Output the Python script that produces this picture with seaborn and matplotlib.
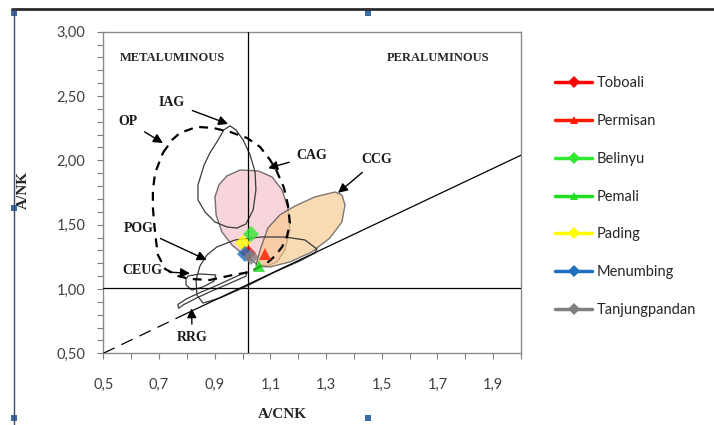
import numpy as np
import pandas as pd
import seaborn as sns
import matplotlib.pyplot as plt
from matplotlib.patches import Polygon, Rectangle
from matplotlib.lines import Line2D

# sample points (A/CNK, A/NK)
sites = ['Toboali', 'Permisan', 'Belinyu', 'Pemali', 'Pading', 'Menumbing', 'Tanjungpandan']
acnk = [1.02, 1.08, 1.03, 1.06, 1.00, 1.01, 1.03]
ank = [1.28, 1.27, 1.43, 1.18, 1.36, 1.27, 1.25]
site_colors = ['#ff0000', '#ff1a00', '#33e833', '#1fdd1f', '#ffff00', '#1f6fc0', '#7f7f7f']
site_markers = ['D', '^', 'D', '^', 'D', 'D', 'D']

# field outlines (A/CNK, A/NK)
op_x = [0.714, 0.747, 0.775, 0.836, 0.894, 0.955, 1.016, 1.063, 1.099, 1.124, 1.149, 1.163, 1.170, 1.160,
        1.142, 1.117, 1.088, 1.027, 0.966, 0.883, 0.811, 0.768, 0.722, 0.696, 0.689, 0.682, 0.678, 0.678, 0.686]
op_y = [2.058, 2.159, 2.213, 2.260, 2.252, 2.221, 2.174, 2.104, 2.003, 1.910, 1.785, 1.653, 1.513, 1.412,
        1.327, 1.257, 1.202, 1.132, 1.109, 1.070, 1.078, 1.101, 1.156, 1.265, 1.381, 1.521, 1.638, 1.770, 1.902]

iag_x = [0.955, 0.976, 1.002, 1.027, 1.045, 1.048, 1.038, 1.012, 0.980, 0.944, 0.901, 0.865, 0.840, 0.840,
         0.862, 0.883, 0.908, 0.933]
iag_y = [2.268, 2.237, 2.159, 2.042, 1.910, 1.770, 1.614, 1.505, 1.474, 1.482, 1.521, 1.599, 1.692, 1.809,
         1.964, 2.058, 2.143, 2.237]

cag_x = [0.991, 0.944, 0.915, 0.901, 0.905, 0.926, 0.962, 1.009, 1.052, 1.088, 1.124, 1.152, 1.170, 1.163,
         1.142, 1.106, 1.056]
cag_y = [1.925, 1.879, 1.809, 1.716, 1.575, 1.443, 1.342, 1.257, 1.194, 1.179, 1.210, 1.303, 1.459, 1.630,
         1.770, 1.871, 1.918]

ccg_x = [1.048, 1.063, 1.091, 1.134, 1.188, 1.260, 1.332, 1.357, 1.368, 1.357, 1.314, 1.249, 1.170, 1.098]
ccg_y = [1.179, 1.303, 1.474, 1.576, 1.645, 1.716, 1.754, 1.731, 1.653, 1.521, 1.397, 1.288, 1.210, 1.171]

pog_x = [1.267, 1.224, 1.152, 1.063, 0.973, 0.908, 0.872, 0.847, 0.833, 0.836, 0.858, 0.919, 1.009, 1.116,
         1.206, 1.260]
pog_y = [1.311, 1.381, 1.404, 1.404, 1.381, 1.327, 1.264, 1.179, 1.070, 0.953, 0.891, 0.930, 1.016, 1.132,
         1.218, 1.280]

ceug_x = [0.805, 0.847, 0.904, 0.898, 0.858, 0.818, 0.797, 0.797]
ceug_y = [1.101, 1.117, 1.109, 1.062, 1.016, 0.992, 1.031, 1.078]

rrg_x = [0.768, 0.800, 0.850, 0.900, 0.955, 1.016, 1.012, 0.950, 0.890, 0.835, 0.790, 0.770]
rrg_y = [0.880, 0.925, 0.975, 1.020, 1.075, 1.135, 1.100, 1.040, 0.985, 0.930, 0.880, 0.850]

# field labels and arrow tips
field_names = ['OP', 'IAG', 'CAG', 'CCG', 'POG', 'CEUG', 'RRG']
field_text_x = [0.589, 0.747, 1.249, 1.483, 0.626, 0.639, 0.819]
field_text_y = [2.299, 2.446, 2.035, 2.003, 1.472, 1.142, 0.619]
field_tip_x = [0.714, 0.948, 1.092, 1.343, 0.871, 0.811, 0.817]
field_tip_y = [2.135, 2.283, 1.939, 1.747, 1.226, 1.122, 0.850]

x_ticks = [0.5, 0.6, 0.7, 0.8, 0.9, 1.0, 1.1, 1.2, 1.3, 1.4, 1.5, 1.6, 1.7, 1.8, 1.9, 2.0]
x_tick_labels = ['0,5', '', '0,7', '', '0,9', '', '1,1', '', '1,3', '', '1,5', '', '1,7', '', '1,9', '']
y_ticks = [0.5, 1.0, 1.5, 2.0, 2.5, 3.0]
y_tick_labels = ['0,50', '1,00', '1,50', '2,00', '2,50', '3,00']

sns.set_style('white')
serif = ['Liberation Serif', 'DejaVu Serif']
sans = ['Lato', 'DejaVu Sans']

fig = plt.figure(figsize=(7.14, 4.25), dpi=100)
ax = fig.add_axes([0.1447, 0.1687, 0.5850, 0.7567])

# fields
ax.add_patch(Polygon(np.column_stack([cag_x, cag_y]), closed=True, fc='#f6c3cd', ec='#3a3a3a',
                     lw=1.0, alpha=0.7, zorder=2))
ax.add_patch(Polygon(np.column_stack([ccg_x, ccg_y]), closed=True, fc='#f7c98a', ec='#3a3a3a',
                     lw=1.0, alpha=0.65, zorder=2))
for xs, ys in [(iag_x, iag_y), (pog_x, pog_y), (ceug_x, ceug_y), (rrg_x, rrg_y)]:
    ax.add_patch(Polygon(np.column_stack([xs, ys]), closed=True, fill=False, ec='#3a3a3a',
                         lw=0.9, zorder=3))
ax.add_patch(Polygon(np.column_stack([op_x, op_y]), closed=True, fill=False, ec='black',
                     lw=1.6, ls=(0, (4, 3)), zorder=3))

# reference lines
ax.plot([0.5, 0.77], [0.5, 0.78], color='black', lw=0.9, ls=(0, (10, 6)), zorder=3)
ax.plot([0.77, 2.0], [0.78, 2.04], color='black', lw=0.9, zorder=3)
ax.axvline(1.02, color='black', lw=0.9, zorder=3)
ax.axhline(1.01, color='black', lw=0.9, zorder=3)

# sample points
df = pd.DataFrame({'site': sites, 'acnk': acnk, 'ank': ank})
sns.lineplot(data=df, x='acnk', y='ank', hue='site', style='site', hue_order=sites, style_order=sites,
             palette=dict(zip(sites, site_colors)), markers=dict(zip(sites, site_markers)),
             dashes=False, markersize=8, markeredgewidth=0, lw=2.5, alpha=0.8, ax=ax, zorder=4)

handles, labels = ax.get_legend_handles_labels()
for h in handles:
    h.set_markersize(6)
    h.set_alpha(1)
ax.legend(handles, labels, loc='upper left', bbox_to_anchor=(548 / 714, 1 - 69 / 425),
          bbox_transform=fig.transFigure, frameon=False, labelspacing=1.63, handlelength=2.5,
          handletextpad=0.35, borderpad=0, prop={'family': sans, 'size': 10.5})

# text
ax.text(0.747, 2.796, 'METALUMINOUS', ha='center', va='center', family=serif, weight='bold', size=9)
ax.text(1.701, 2.796, 'PERALUMINOUS', ha='center', va='center', family=serif, weight='bold', size=9)
for name, tx, ty, px, py in zip(field_names, field_text_x, field_text_y, field_tip_x, field_tip_y):
    ax.annotate(name, xy=(px, py), xytext=(tx, ty), ha='center', va='center', family=serif,
                weight='bold', size=10, color='#1a1a1a', zorder=5,
                arrowprops=dict(arrowstyle='-|>', color='black', lw=1.0, mutation_scale=14,
                                shrinkA=3, shrinkB=0))

ax.set_xlim(0.5, 2.0)
ax.set_ylim(0.5, 3.0)
ax.set_xticks(x_ticks)
ax.set_xticklabels(x_tick_labels, family=sans, size=10.5, color='#404040')
ax.set_yticks(y_ticks)
ax.set_yticklabels(y_tick_labels, family=sans, size=10.5, color='#404040')
ax.set_yticks(np.arange(0.5, 3.01, 0.1), minor=True)
ax.tick_params(axis='x', which='both', direction='out', length=4, width=0.8, color='#7f7f7f', pad=14)
ax.tick_params(axis='y', which='both', direction='out', length=4, width=0.8, color='#7f7f7f', pad=9)
ax.tick_params(left=True, bottom=True, which='both')
for s in ax.spines.values():
    s.set_color('#8a8a8a')
    s.set_linewidth(1.0)
ax.set_xlabel('A/CNK', family=serif, weight='bold', size=11)
ax.set_ylabel('A/NK', family=serif, weight='bold', size=11)
ax.xaxis.set_label_coords(282 / 714, 1 - 408 / 425, transform=fig.transFigure)
ax.yaxis.set_label_coords(30 / 714, 1 - 190 / 425, transform=fig.transFigure)

# chart frame with selection handles
fig.add_artist(Line2D([12 / 714, 1], [1 - 9 / 425] * 2, transform=fig.transFigure, color='#2b2b2b', lw=2))
fig.add_artist(Line2D([14 / 714] * 2, [1 - 9 / 425, 0], transform=fig.transFigure, color='#3a4a6a', lw=1))
for hx, hy in [(14, 13), (368, 13), (14, 208), (14, 418), (368, 418)]:
    fig.add_artist(Rectangle(((hx - 3) / 714, 1 - (hy + 3) / 425), 6 / 714, 6 / 425,
                             transform=fig.transFigure, fc='#3f6aa8', ec='none'))

plt.savefig('out.png', dpi=100)
